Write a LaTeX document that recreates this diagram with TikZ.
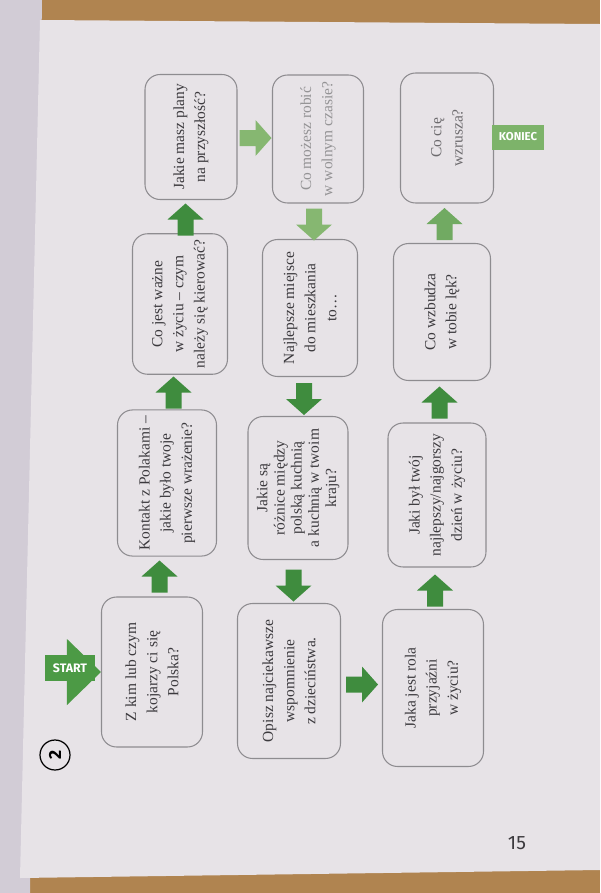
\documentclass[tikz,border=0pt]{standalone}
\usepackage{fontspec}
\setmainfont{Liberation Serif}
\newfontfamily\labelfont{Fira Sans}
\usetikzlibrary{calc}

\definecolor{arrowgreen}{HTML}{3F8C3E}
\definecolor{glaregreen}{HTML}{86B771}
\definecolor{labelgreen}{HTML}{4C9A45}
\definecolor{paper}{HTML}{E7E3E7}
\definecolor{wood}{HTML}{B08450}
\definecolor{facing}{HTML}{D2CCD6}
\definecolor{cardline}{HTML}{8E8C90}
\definecolor{ink}{HTML}{3C3A3E}

\tikzset{blockarrow/.pic={\fill[pic actions] (0,-17) -- (18,-1) -- (8,-1) -- (8,15) -- (-8,15) -- (-8,-1) -- (-18,-1) -- cycle;}}

\begin{document}
\begin{tikzpicture}[x=0.02cm, y=-0.02cm]
    \tikzstyle{every node}=[align=center];
    \tikzstyle{card} = [draw=cardline, line width=0.6pt, rounded corners=3mm, rotate=90, text=ink, font=\fontsize{8.8}{12}\selectfont]
    \tikzstyle{tag} = [fill=labelgreen, text=white, inner sep=1pt, font=\labelfont\bfseries\fontsize{7}{8}\selectfont]

    \useasboundingbox (0,0) rectangle (600,893);
    \fill[wood] (0,0) rectangle (600,893);
    \fill[facing] (0,0) -- (42,0) -- (30,893) -- (0,893) -- cycle;
    \fill[paper] (40,20) -- (600,24) -- (600,870) -- (20,878) -- cycle;

    % first column, bottom to top
    \node[card, minimum width=3.0cm, minimum height=2.02cm] (Polska) at (152,672) {Z kim lub czym\\ kojarzy ci się\\ Polska?};
    \node[card, minimum width=2.8cm, minimum height=1.98cm] (Kontakt) at (167,483) {Kontakt z Polakami –\\ jakie było twoje\\ pierwsze wrażenie?};
    \node[card, minimum width=2.55cm, minimum height=1.9cm] (Wazne) at (180,304) {Co jest ważne\\ w życiu – czym\\ należy się kierować?};
    \node[card, minimum width=2.5cm, minimum height=1.84cm] (Plany) at (191,137) {Jakie masz plany\\ na przyszłość?};

    % second column, top to bottom
    \node[card, text=ink!55, minimum width=2.56cm, minimum height=1.82cm] (Czas) at (318,139) {Co możesz robić\\ w wolnym czasie?};
    \node[card, minimum width=2.74cm, minimum height=1.9cm] (Miejsce) at (310,308) {Najlepsze miejsce\\ do mieszkania\\ to…};
    \node[card, minimum width=2.86cm, minimum height=2.0cm, font=\fontsize{8.8}{9.8}\selectfont] (Kuchnia) at (298,488) {Jakie są\\ różnice między\\ polską kuchnią\\ a kuchnią w twoim\\ kraju?};
    \node[card, minimum width=3.1cm, minimum height=2.06cm] (Dziecinstwo) at (289,681) {Opisz najciekawsze\\ wspomnienie\\ z dzieciństwa.};

    % third column, bottom to top
    \node[card, minimum width=3.14cm, minimum height=2.02cm] (Przyjazn) at (433,688) {Jaka jest rola\\ przyjaźni\\ w życiu?};
    \node[card, minimum width=2.88cm, minimum height=1.96cm] (Dzien) at (437,495) {Jaki był twój\\ najlepszy/najgorszy\\ dzień w życiu?};
    \node[card, minimum width=2.74cm, minimum height=1.94cm] (Lek) at (442,312) {Co wzbudza\\ w tobie lęk?};
    \node[card, text=ink!75, minimum width=2.6cm, minimum height=1.86cm] (Wzrusza) at (447,138) {Co cię\\ wzrusza?};

    \fill[labelgreen] (Polska.north) -- ++(-34,-33) -- ++(0,66) -- cycle;
    \node[tag, minimum width=1.0cm, minimum height=0.52cm] (Start) at (70,668) {START};
    \node[tag, fill=glaregreen!85!labelgreen, minimum width=1.04cm, minimum height=0.5cm, font=\labelfont\bfseries\fontsize{6.5}{7}\selectfont] (Koniec) at (518,137) {KONIEC};

    \pic[fill=arrowgreen] at ($(Polska)!0.5!(Kontakt)$) {blockarrow};
    \pic[fill=arrowgreen] at ($(Kontakt)!0.5!(Wazne)$) {blockarrow};
    \pic[fill=arrowgreen] at ($(Wazne)!0.5!(Plany)$) {blockarrow};
    \pic[fill=glaregreen, rotate=-90] at ($(Plany)!0.5!(Czas)$) {blockarrow};
    \pic[fill=glaregreen, rotate=180] at ($(Czas)!0.5!(Miejsce)$) {blockarrow};
    \pic[fill=arrowgreen, rotate=180] at ($(Miejsce)!0.5!(Kuchnia)$) {blockarrow};
    \pic[fill=arrowgreen, rotate=180] at ($(Kuchnia)!0.5!(Dziecinstwo)$) {blockarrow};
    \pic[fill=arrowgreen, rotate=-90] at ($(Dziecinstwo)!0.5!(Przyjazn)$) {blockarrow};
    \pic[fill=arrowgreen] at ($(Przyjazn)!0.5!(Dzien)$) {blockarrow};
    \pic[fill=arrowgreen] at ($(Dzien)!0.5!(Lek)$) {blockarrow};
    \pic[fill=glaregreen!70!arrowgreen] at ($(Lek)!0.5!(Wzrusza)$) {blockarrow};

    \node[draw, circle, line width=0.7pt, minimum size=0.6cm, inner sep=0pt, rotate=90, font=\labelfont\bfseries\fontsize{10}{10}\selectfont] (Chapter) at (55,755) {2};
    \node[text=ink, font=\labelfont\fontsize{11}{11}\selectfont] (PageNo) at (517,843) {15};

\end{tikzpicture}
\end{document}
